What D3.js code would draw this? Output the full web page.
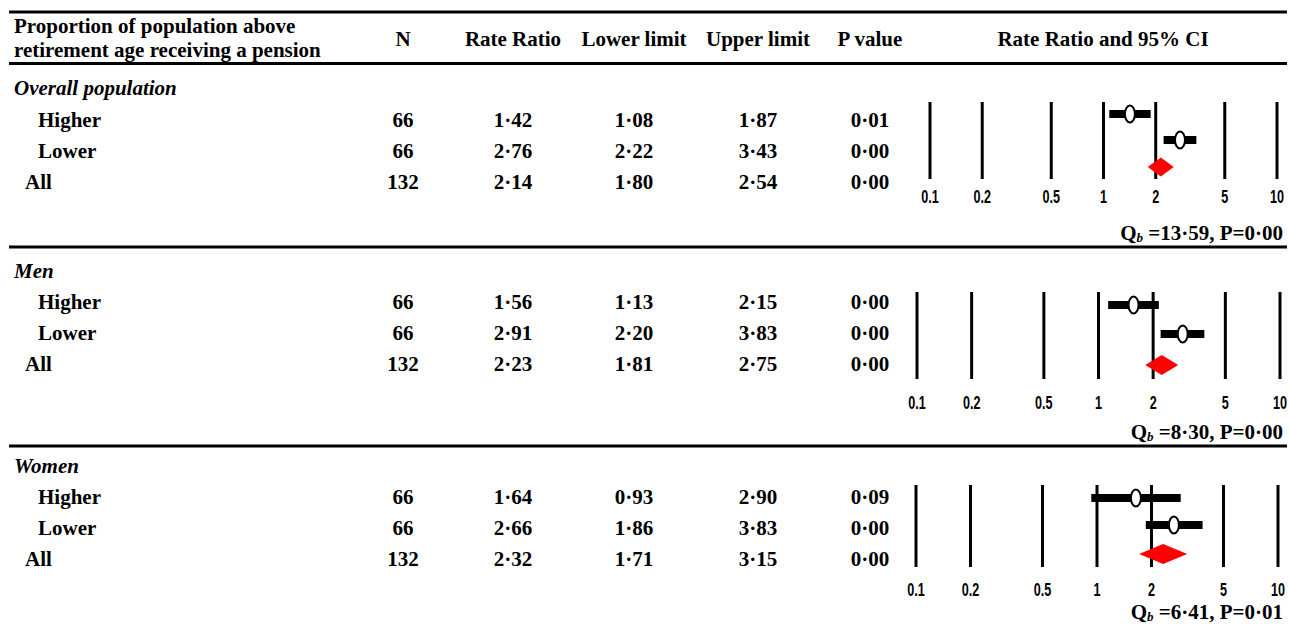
<!DOCTYPE html>
<html>
<head>
<meta charset="utf-8">
<script src="https://cdn.jsdelivr.net/npm/d3@7"></script>
<style>
  body { margin: 0; background: #fff; }
  svg text { font-family: "Liberation Serif", "Times New Roman", serif; font-weight: bold; fill: #000; }
  svg text.tick-label { font-family: "Liberation Sans", Arial, sans-serif; }
</style>
</head>
<body>
<svg id="chart" width="1289" height="624"></svg>
<script>
// ---- data ----
const headerLines = ["Proportion of population above", "retirement age receiving a pension"];
const columnHeaders = ["N", "Rate Ratio", "Lower limit", "Upper limit", "P value", "Rate Ratio and 95% CI"];
const groups = ["Overall population", "Men", "Women"];
const subgroups = ["Higher", "Lower", "All"];
const nValues = [[66, 66, 132], [66, 66, 132], [66, 66, 132]];
const rateRatio = [[1.42, 2.76, 2.14], [1.56, 2.91, 2.23], [1.64, 2.66, 2.32]];
const lowerLimit = [[1.08, 2.22, 1.80], [1.13, 2.20, 1.81], [0.93, 1.86, 1.71]];
const upperLimit = [[1.87, 3.43, 2.54], [2.15, 3.83, 2.75], [2.90, 3.83, 3.15]];
const pValues = [[0.01, 0.00, 0.00], [0.00, 0.00, 0.00], [0.09, 0.00, 0.00]];
const qbValues = [13.59, 8.30, 6.41];
const qbP = [0.00, 0.00, 0.01];
const tickValues = [0.1, 0.2, 0.5, 1, 2, 5, 10];
const tickLabels = ["0.1", "0.2", "0.5", "1", "2", "5", "10"];

// ---- layout ----
const svg = d3.select("#chart");
const fontSize = 21;
const ruleExtent = [9, 1287];
const ruleYs = [12, 63.5, 247, 446];
const colX = [403, 513, 634, 758, 870, 1103];
const labelX = { group: 14, sub: 38, all: 25 };

const sections = [
  { titleY: 88,  rowY: [120, 151, 182], plotX: [930, 1277], lineY: [102, 179], markY: [114, 140, 167], tickY: 197, qY: 233, halfD: 9.5 },
  { titleY: 271, rowY: [302, 333, 364], plotX: [917, 1280], lineY: [292, 379], markY: [305, 334, 365], tickY: 403, qY: 432, halfD: 10 },
  { titleY: 466, rowY: [497, 528, 559], plotX: [916, 1278], lineY: [485, 567], markY: [498, 525, 554], tickY: 590, qY: 612, halfD: 10 }
];

const fmt = v => d3.format(".2f")(v).replace(".", "\u00b7");

// horizontal rules
svg.selectAll("line.rule").data(ruleYs).join("line")
  .attr("class", "rule")
  .attr("x1", ruleExtent[0]).attr("x2", ruleExtent[1])
  .attr("y1", d => d).attr("y2", d => d)
  .attr("stroke", "#000").attr("stroke-width", 3);

// header
svg.selectAll("text.hdr").data(headerLines).join("text")
  .attr("class", "hdr")
  .attr("x", labelX.group)
  .attr("y", (d, i) => 26 + i * 24)
  .attr("dominant-baseline", "central")
  .style("font-size", fontSize + "px")
  .text(d => d);

svg.selectAll("text.colhdr").data(columnHeaders).join("text")
  .attr("class", "colhdr")
  .attr("x", (d, i) => colX[i])
  .attr("y", 39)
  .attr("text-anchor", "middle")
  .attr("dominant-baseline", "central")
  .style("font-size", fontSize + "px")
  .text(d => d);

sections.forEach((sec, g) => {
  const grp = svg.append("g");

  // group title
  grp.append("text")
    .attr("x", labelX.group).attr("y", sec.titleY)
    .attr("dominant-baseline", "central")
    .style("font-size", fontSize + "px")
    .style("font-style", "italic")
    .text(groups[g]);

  // table rows
  subgroups.forEach((s, r) => {
    const cells = [nValues[g][r], fmt(rateRatio[g][r]), fmt(lowerLimit[g][r]), fmt(upperLimit[g][r]), fmt(pValues[g][r])];
    grp.append("text")
      .attr("x", s === "All" ? labelX.all : labelX.sub)
      .attr("y", sec.rowY[r])
      .attr("dominant-baseline", "central")
      .style("font-size", fontSize + "px")
      .text(s);
    grp.selectAll(null).data(cells).join("text")
      .attr("x", (d, i) => colX[i])
      .attr("y", sec.rowY[r])
      .attr("text-anchor", "middle")
      .attr("dominant-baseline", "central")
      .style("font-size", fontSize + "px")
      .text(d => d);
  });

  // forest plot
  const x = d3.scaleLog().domain([0.1, 10]).range(sec.plotX);
  const y = d3.scaleOrdinal().domain(subgroups).range(sec.markY);

  grp.selectAll("line.ref").data(tickValues).join("line")
    .attr("class", "ref")
    .attr("x1", d => x(d)).attr("x2", d => x(d))
    .attr("y1", sec.lineY[0]).attr("y2", sec.lineY[1])
    .attr("stroke", "#000").attr("stroke-width", 3);

  grp.selectAll("text.tick-label").data(tickValues).join("text")
    .attr("class", "tick-label")
    .attr("text-anchor", "middle")
    .attr("dominant-baseline", "central")
    .attr("transform", d => `translate(${x(d)},${sec.tickY}) scale(0.7,1)`)
    .style("font-size", "18px")
    .text((d, i) => tickLabels[i]);

  const studies = [0, 1].map(r => ({ key: subgroups[r], rr: rateRatio[g][r], lo: lowerLimit[g][r], hi: upperLimit[g][r] }));

  grp.selectAll("rect.ci").data(studies).join("rect")
    .attr("class", "ci")
    .attr("x", d => x(d.lo))
    .attr("width", d => x(d.hi) - x(d.lo))
    .attr("y", d => y(d.key) - 4)
    .attr("height", 8)
    .attr("fill", "#000");

  grp.selectAll("ellipse.pt").data(studies).join("ellipse")
    .attr("class", "pt")
    .attr("cx", d => x(d.rr))
    .attr("cy", d => y(d.key))
    .attr("rx", 5).attr("ry", 8.5)
    .attr("fill", "#fff").attr("stroke", "#000").attr("stroke-width", 2);

  // pooled estimate diamond
  const pooled = { rr: rateRatio[g][2], lo: lowerLimit[g][2], hi: upperLimit[g][2] };
  const cy = y("All");
  grp.append("path")
    .attr("d", `M${x(pooled.lo)},${cy} L${x(pooled.rr)},${cy - sec.halfD} L${x(pooled.hi)},${cy} L${x(pooled.rr)},${cy + sec.halfD} Z`)
    .attr("fill", "#ff0000");

  // heterogeneity test
  const q = grp.append("text")
    .attr("x", 1283).attr("y", sec.qY)
    .attr("text-anchor", "end")
    .attr("dominant-baseline", "central")
    .style("font-size", fontSize + "px");
  q.append("tspan").text("Q");
  q.append("tspan").attr("font-style", "italic").attr("font-size", "13px").attr("dy", 4).text("b");
  q.append("tspan").attr("dy", -4).text(" =" + fmt(qbValues[g]) + ", P=" + fmt(qbP[g]));
});
</script>
</body>
</html>
